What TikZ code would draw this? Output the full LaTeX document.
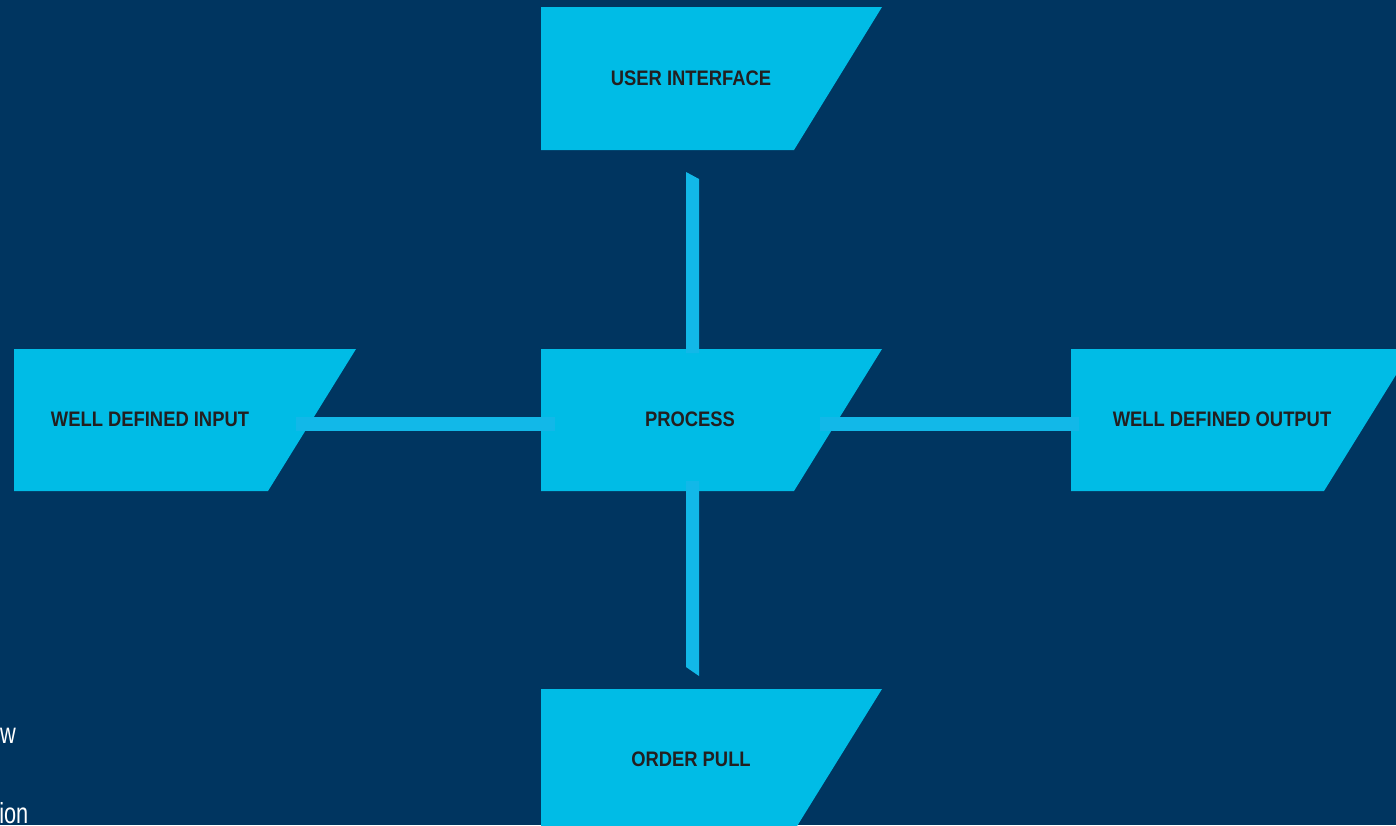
\documentclass[tikz,border=0pt]{standalone}
\usepackage{fontspec}
\setmainfont{Liberation Sans}
\newfontfamily\boxfont[FakeStretch=0.875]{Liberation Sans}
\newfontfamily\sidefont[FakeStretch=0.75]{Liberation Sans}
\definecolor{bgc}{HTML}{003560}
\definecolor{boxc}{HTML}{00BCE6}
\definecolor{barc}{HTML}{12B8E8}
\definecolor{txtc}{HTML}{231F20}
\tikzset{
  box/.style={inner sep=0pt, outer sep=0pt, draw=none, minimum width=341pt, minimum height=142pt,
    path picture={\fill[boxc] (path picture bounding box.north west) -- (path picture bounding box.north east)
      -- ([xshift=-88pt]path picture bounding box.south east) -- (path picture bounding box.south west) -- cycle;}},
  lbl/.style={text=txtc, font=\boxfont\bfseries\fontsize{21pt}{24pt}\selectfont, inner sep=0pt},
  bar/.style={draw=barc, line width=14pt},
  barfill/.style={fill=barc},
  side/.style={text=white, font=\sidefont\fontsize{29pt}{34pt}\selectfont, inner sep=0pt, anchor=base east}
}
\begin{document}
\begin{tikzpicture}[x=1pt,y=-1pt]
\useasboundingbox (0,0) rectangle (1396,825);
\clip (0,0) rectangle (1396,825);
\fill[bgc] (0,0) rectangle (1396,825);
% boxes
\node[box, minimum height=143pt, label={[lbl,xshift=-20.5pt]center:USER INTERFACE}] (ui) at (711.5,78.5) {};
\node[box, label={[lbl,xshift=-21.5pt,yshift=1pt]center:PROCESS}] (proc) at (711.5,420) {};
\node[box, minimum width=342pt, label={[lbl,xshift=-35pt,yshift=1pt]center:WELL DEFINED INPUT}] (in) at (185,420) {};
\node[box, label={[lbl,xshift=-19.5pt,yshift=1pt]center:WELL DEFINED OUTPUT}] (out) at (1241.5,420) {};
\node[box, label={[lbl,xshift=-20.5pt,yshift=1pt]center:ORDER PULL}] (op) at (711.5,760) {};
% connectors
\fill[barfill] ([xshift=-25.5pt,yshift=-22pt]ui.south) -- ([xshift=-12.5pt,yshift=-29pt]ui.south)
  -- ([xshift=-12.5pt,yshift=-4pt]proc.north) -- ([xshift=-25.5pt,yshift=-4pt]proc.north) -- cycle;
\fill[barfill] ([xshift=-25.5pt,yshift=10pt]proc.south) -- ([xshift=-12.5pt,yshift=10pt]proc.south)
  -- ([xshift=-12.5pt,yshift=13pt]op.north) -- ([xshift=-25.5pt,yshift=22pt]op.north) -- cycle;
\draw[bar] ([xshift=-60pt,yshift=-4pt]in.east) -- ([xshift=14pt,yshift=-4pt]proc.west);
\draw[bar] ([xshift=-62pt,yshift=-4pt]proc.east) -- ([xshift=8pt,yshift=-4pt]out.west);
% cut-off side text
\node[side] (t1) at (16,743) {w};
\node[side] (t2) at (28.5,823) {ion};
\end{tikzpicture}
\end{document}
